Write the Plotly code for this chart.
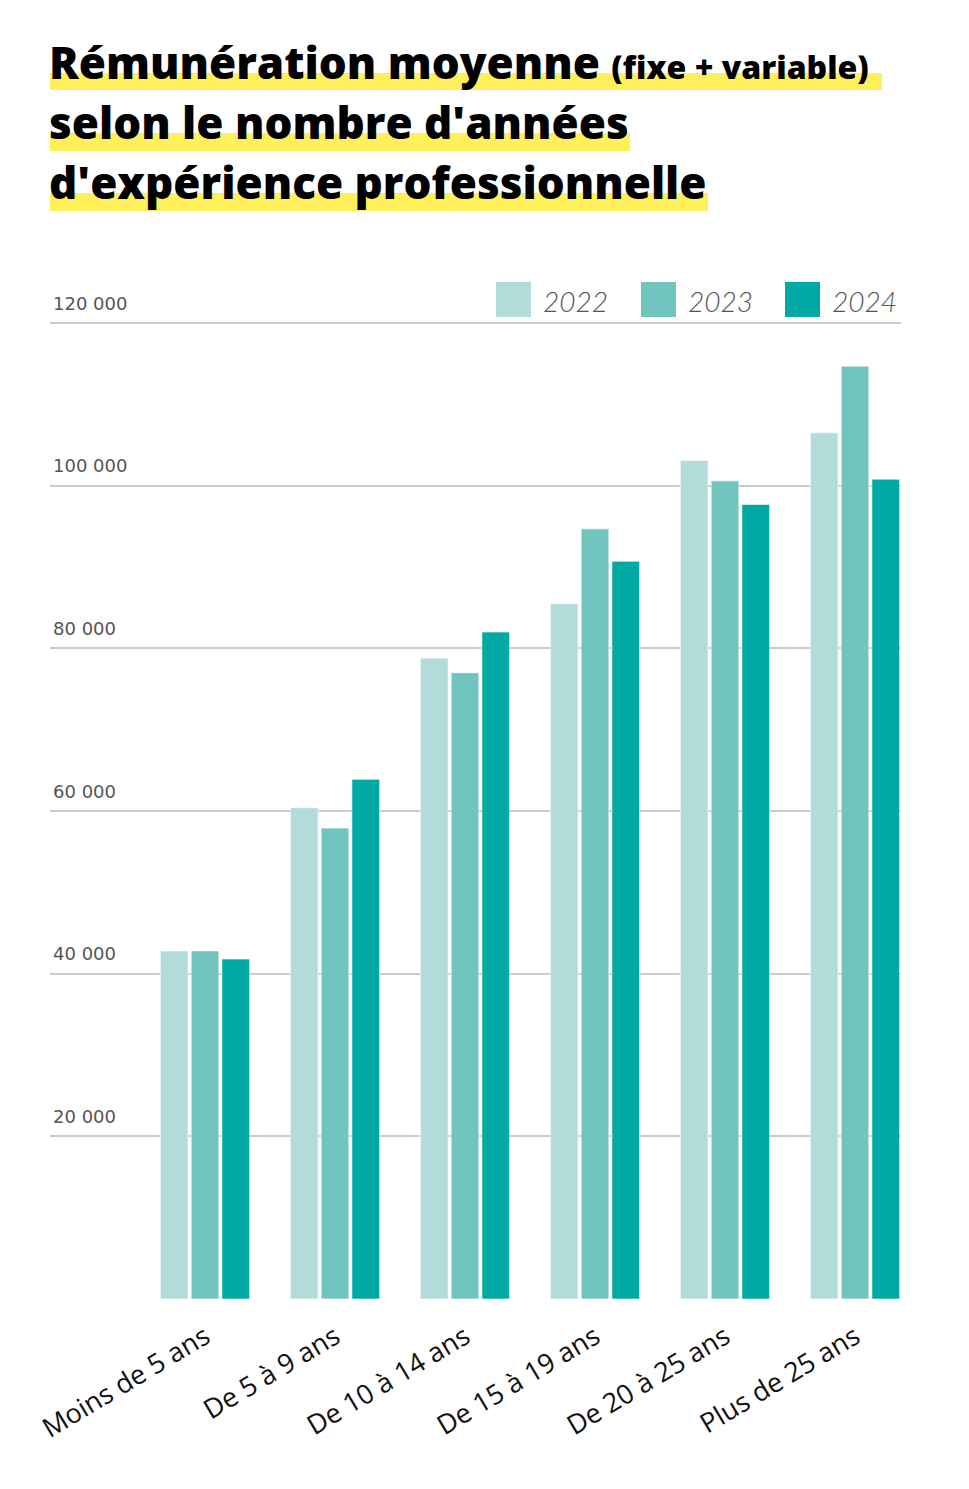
import plotly.graph_objects as go

categories = ["Moins de 5 ans", "De 5 à 9 ans", "De 10 à 14 ans",
              "De 15 à 19 ans", "De 20 à 25 ans", "Plus de 25 ans"]
years = ["2022", "2023", "2024"]
values_2022 = [42800, 60400, 78800, 85500, 103100, 106500]
values_2023 = [42800, 57900, 77000, 94700, 100600, 114700]
values_2024 = [41800, 63900, 82000, 90700, 97700, 100800]
colors = ["#B1DCD9", "#72C5BF", "#00A9A3"]
ytick_vals = [20000, 40000, 60000, 80000, 100000, 120000]
ytick_text = ["20 000", "40 000", "60 000", "80 000", "100 000", "120 000"]

OFF = 8  # page body margin
W, H = 953, 1473
L, R, T, B = 42, 60, 270, 182
pw = W - L - R
ph = H - T - B


def fx(px):
    return (px - OFF - L) / pw


def fy(py):
    return (H - B - (py - OFF)) / ph


fig = go.Figure()
for yr, vals, c in zip(years, [values_2022, values_2023, values_2024], colors):
    fig.add_bar(x=categories, y=vals, name=yr,
                marker=dict(color=c, line=dict(color="rgba(255,255,255,0.6)", width=1)),
                cliponaxis=False, showlegend=False)

shapes = []
annotations = []

# title highlights
for x1, y0, y1 in [(882, 73, 90), (630, 133, 151), (708, 193, 211)]:
    shapes.append(dict(type="rect", xref="paper", yref="paper", layer="below",
                       x0=fx(50), x1=fx(x1), y0=fy(y1), y1=fy(y0),
                       fillcolor="#FFEF5A", line=dict(width=0)))

title_font = dict(family="Open Sans", size=44, color="#000000", weight=800)
title_lines = [
    "Rémunération moyenne <span style='font-size:32px'>(fixe + variable)</span>",
    "selon le nombre d'années",
    "d'expérience professionnelle",
]
for txt, yc in zip(title_lines, [62, 122, 182]):
    annotations.append(dict(text=txt, xref="paper", yref="paper", x=fx(47), y=fy(yc),
                            xanchor="left", yanchor="middle", showarrow=False,
                            font=title_font))

# legend
for yr, c, sx in zip(years, colors, [496, 641, 785]):
    shapes.append(dict(type="rect", xref="paper", yref="paper",
                       x0=fx(sx), x1=fx(sx + 35), y0=fy(317), y1=fy(282),
                       fillcolor=c, line=dict(width=0)))
    annotations.append(dict(text=yr, xref="paper", yref="paper", x=fx(sx + 45), y=fy(301),
                            xanchor="left", yanchor="middle", showarrow=False,
                            font=dict(family="Lato", size=28, color="#555555",
                                      style="italic", weight=300)))

cat0 = 205 - OFF  # figure pixel of first category centre
step = 130
y_top = (H - B - T) / 8.133 * 1000  # keep ~8.13 px per 1000
fig.update_layout(
    width=W, height=H,
    margin=dict(l=L, r=R, t=T, b=B),
    paper_bgcolor="white", plot_bgcolor="white",
    barmode="group", bargap=0.29, bargroupgap=0.1,
    shapes=shapes, annotations=annotations,
    xaxis=dict(range=[(L - cat0) / step, (W - R - cat0) / step],
               tickangle=-31, tickfont=dict(family="Open Sans", size=27, color="#111111"),
               showgrid=False, showline=False, zeroline=False, ticks="",
               ticklabelstandoff=16),
    yaxis=dict(range=[0, y_top], tickvals=ytick_vals, ticktext=ytick_text,
               ticklabelposition="inside top", ticklabelshift=-7, ticklabelstandoff=0,
               tickfont=dict(family="DejaVu Sans", size=18, color="#555555"),
               gridcolor="#CBCBCB", gridwidth=1.5, zeroline=False, showline=False,
               ticks=""),
)

fig.write_html("out.html")
